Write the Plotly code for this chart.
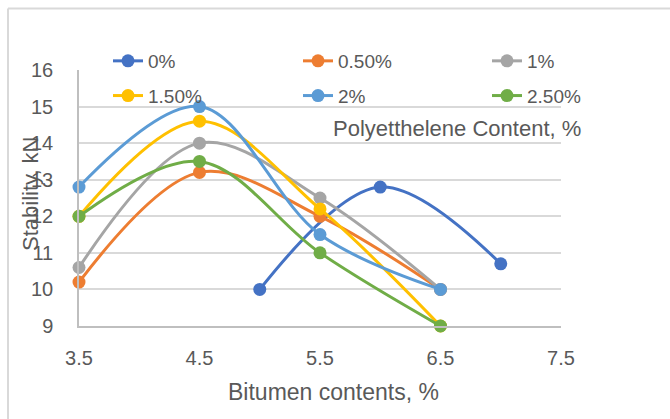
import plotly.graph_objects as go

bitumen_main = [3.5, 4.5, 5.5, 6.5]
bitumen_zero = [5, 6, 7]

series_names = ["0%", "0.50%", "1%", "1.50%", "2%", "2.50%"]
stab_0 = [10.0, 12.8, 10.7]
stab_05 = [10.2, 13.2, 12.0, 10.0]
stab_1 = [10.6, 14.0, 12.5, 10.0]
stab_15 = [12.0, 14.6, 12.2, 9.0]
stab_2 = [12.8, 15.0, 11.5, 10.0]
stab_25 = [12.0, 13.5, 11.0, 9.0]

x_ticks = [3.5, 4.5, 5.5, 6.5, 7.5]
y_ticks = [9, 10, 11, 12, 13, 14, 15, 16]

colors = ["#4472C4", "#ED7D31", "#A5A5A5", "#FFC000", "#5B9BD5", "#70AD47"]
xs = [bitumen_zero, bitumen_main, bitumen_main, bitumen_main, bitumen_main, bitumen_main]
ys = [stab_0, stab_05, stab_1, stab_15, stab_2, stab_25]
legends = ["legend", "legend2", "legend3", "legend", "legend2", "legend3"]

FONT = "Liberation Sans, Arial, sans-serif"
GREY = "#595959"

fig = go.Figure()
for name, x, y, c, lg in zip(series_names, xs, ys, colors, legends):
    fig.add_trace(go.Scatter(
        x=x, y=y, name=name, mode="lines+markers",
        line=dict(color=c, width=3, shape="spline", smoothing=1),
        marker=dict(color=c, size=13),
        cliponaxis=False, legend=lg, legendgroup=name,
    ))

L, R, T, B = 79, 109, 70, 93
W, H = 670, 419
pw, ph = W - L - R, H - T - B

def px_x(p):
    return (p - L) / pw

def px_y(p):
    return (H - B - p) / ph

leg_common = dict(orientation="v", yanchor="top", xanchor="left",
                  font=dict(family=FONT, size=19, color=GREY),
                  bgcolor="rgba(0,0,0,0)", tracegroupgap=7)

fig.update_layout(
    width=W, height=H,
    margin=dict(l=L, r=R, t=T, b=B, autoexpand=False),
    paper_bgcolor="white", plot_bgcolor="white",
    font=dict(family=FONT, color=GREY),
    legend=dict(x=px_x(108), y=px_y(42), **leg_common),
    legend2=dict(x=px_x(298), y=px_y(42), **leg_common),
    legend3=dict(x=px_x(487), y=px_y(42), **leg_common),
    xaxis=dict(range=[3.5, 7.5], tickvals=x_ticks, ticktext=[str(v) for v in x_ticks],
               showgrid=False, showline=True, linecolor="#BFBFBF", linewidth=1.5,
               zeroline=False, ticks="outside", ticklen=0, ticklabelstandoff=13,
               tickfont=dict(family=FONT, size=20, color=GREY)),
    yaxis=dict(range=[9, 16], tickvals=y_ticks, showgrid=True, gridcolor="#D9D9D9", gridwidth=1.5,
               showline=True, linecolor="#BFBFBF", linewidth=1.5, zeroline=False,
               ticks="outside", ticklen=0, ticklabelstandoff=20,
               tickfont=dict(family=FONT, size=20, color=GREY)),
    annotations=[
        dict(text="Stability, kN", x=px_x(30), y=px_y(194), xref="paper", yref="paper",
             xanchor="center", yanchor="middle",
             textangle=-90, showarrow=False, font=dict(family=FONT, size=22, color=GREY)),
        dict(text="Bitumen contents, %", x=px_x(333), y=px_y(392), xref="paper", yref="paper",
             xanchor="center", yanchor="middle",
             showarrow=False, font=dict(family=FONT, size=23, color=GREY)),
        dict(text="Polyetthelene Content, %", x=px_x(457), y=px_y(128), xref="paper", yref="paper",
             xanchor="center", yanchor="middle",
             showarrow=False, font=dict(family=FONT, size=22, color=GREY)),
    ],
    shapes=[
        dict(type="line", xref="paper", yref="paper", x0=px_x(8), x1=px_x(W + 5),
             y0=px_y(8.5), y1=px_y(8.5), line=dict(color="#D9D9D9", width=2)),
        dict(type="line", xref="paper", yref="paper", x0=px_x(8), x1=px_x(8),
             y0=px_y(8.5), y1=px_y(H + 5), line=dict(color="#D9D9D9", width=2)),
    ],
)

fig.write_html("out.html", post_script="document.body.style.margin='0';",
               config={"displayModeBar": False})
